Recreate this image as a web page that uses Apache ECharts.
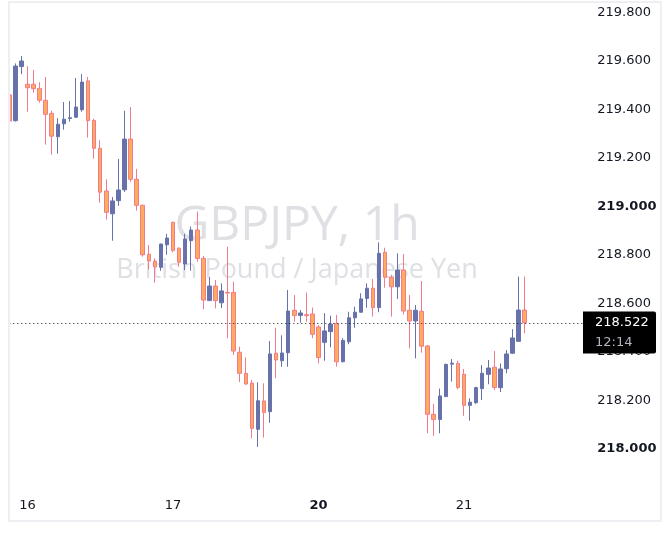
<!DOCTYPE html>
<html>
<head>
<meta charset="utf-8"/>
<title>GBPJPY, 1h</title>
<style type="text/css">
    html, body { margin: 0; padding: 0; background: #fff; }
    #main { width: 670px; height: 535px; }
</style>
<script type="text/javascript" src="https://cdn.jsdelivr.net/npm/echarts@6/dist/echarts.min.js"></script>
</head>
<body>
<div id="main"></div>
<script>
    // hourly sessions shown on the time axis: [day, first hour, number of bars]
    var sessions = [['15', 21, 3], ['16', 0, 24], ['17', 0, 24], ['20', 0, 24], ['21', 0, 21]];
    var boldDays = ['20'];

    // candles as [open, close, low, high]
    var candles = [
        [219.460, 219.353, 219.345, 219.465],
        [219.354, 219.579, 219.350, 219.590],
        [219.577, 219.600, 219.546, 219.621],
        [219.504, 219.490, 219.391, 219.579],
        [219.504, 219.486, 219.469, 219.563],
        [219.487, 219.438, 219.428, 219.512],
        [219.438, 219.380, 219.255, 219.534],
        [219.384, 219.290, 219.214, 219.395],
        [219.288, 219.339, 219.218, 219.364],
        [219.341, 219.360, 219.317, 219.431],
        [219.363, 219.366, 219.350, 219.435],
        [219.368, 219.410, 219.365, 219.530],
        [219.399, 219.513, 219.391, 219.546],
        [219.518, 219.354, 219.284, 219.534],
        [219.355, 219.240, 219.197, 219.362],
        [219.240, 219.059, 219.016, 219.273],
        [219.064, 218.976, 218.946, 219.112],
        [218.970, 219.023, 218.859, 219.039],
        [219.024, 219.068, 219.003, 219.196],
        [219.069, 219.278, 219.060, 219.395],
        [219.278, 219.112, 219.102, 219.410],
        [219.112, 219.005, 218.983, 219.155],
        [219.005, 218.801, 218.793, 219.008],
        [218.803, 218.775, 218.741, 218.841],
        [218.774, 218.751, 218.686, 218.786],
        [218.749, 218.845, 218.735, 218.847],
        [218.842, 218.870, 218.801, 218.887],
        [218.935, 218.819, 218.811, 218.937],
        [218.828, 218.770, 218.751, 218.832],
        [218.763, 218.866, 218.738, 218.887],
        [218.859, 218.903, 218.735, 218.917],
        [218.903, 218.786, 218.772, 218.979],
        [218.786, 218.614, 218.576, 218.796],
        [218.612, 218.672, 218.610, 218.709],
        [218.672, 218.612, 218.580, 218.697],
        [218.603, 218.652, 218.581, 218.683],
        [218.646, 218.643, 218.457, 218.834],
        [218.646, 218.404, 218.388, 218.690],
        [218.399, 218.312, 218.276, 218.422],
        [218.312, 218.268, 218.265, 218.378],
        [218.272, 218.085, 218.044, 218.285],
        [218.081, 218.199, 218.009, 218.275],
        [218.198, 218.151, 218.047, 218.271],
        [218.154, 218.392, 218.108, 218.445],
        [218.395, 218.367, 218.292, 218.500],
        [218.364, 218.396, 218.339, 218.469],
        [218.397, 218.569, 218.339, 218.656],
        [218.572, 218.551, 218.524, 218.635],
        [218.551, 218.561, 218.521, 218.573],
        [218.554, 218.550, 218.525, 218.645],
        [218.557, 218.473, 218.457, 218.583],
        [218.503, 218.377, 218.353, 218.511],
        [218.440, 218.487, 218.364, 218.560],
        [218.484, 218.515, 218.419, 218.550],
        [218.518, 218.360, 218.339, 218.553],
        [218.360, 218.448, 218.357, 218.457],
        [218.442, 218.541, 218.432, 218.566],
        [218.541, 218.564, 218.500, 218.587],
        [218.564, 218.619, 218.562, 218.642],
        [218.621, 218.663, 218.583, 218.683],
        [218.663, 218.583, 218.546, 218.701],
        [218.583, 218.807, 218.564, 218.852],
        [218.811, 218.708, 218.665, 218.830],
        [218.708, 218.669, 218.546, 218.718],
        [218.669, 218.738, 218.619, 218.807],
        [218.738, 218.569, 218.555, 218.804],
        [218.572, 218.528, 218.415, 218.635],
        [218.528, 218.572, 218.374, 218.594],
        [218.568, 218.424, 218.397, 218.693],
        [218.425, 218.143, 218.065, 218.429],
        [218.143, 218.122, 218.054, 218.186],
        [218.122, 218.219, 218.065, 218.249],
        [218.216, 218.349, 218.215, 218.352],
        [218.350, 218.354, 218.278, 218.371],
        [218.353, 218.254, 218.246, 218.364],
        [218.308, 218.180, 218.137, 218.330],
        [218.180, 218.193, 218.117, 218.209],
        [218.191, 218.253, 218.186, 218.257],
        [218.249, 218.312, 218.202, 218.346],
        [218.308, 218.334, 218.267, 218.367],
        [218.337, 218.254, 218.243, 218.404],
        [218.253, 218.330, 218.235, 218.353],
        [218.331, 218.392, 218.312, 218.408],
        [218.395, 218.458, 218.392, 218.494],
        [218.444, 218.573, 218.444, 218.711],
        [218.573, 218.522, 218.477, 218.711]
    ];

    var priceMin = 218.0;
    var priceMax = 219.8;
    var priceStep = 0.2;
    var lastPrice = 218.522;
    var countdown = '12:14';
    var title = 'GBPJPY, 1h';
    var subtitle = 'British Pound / Japanese Yen';

    var upColor = '#6672a9';
    var downFill = '#ffab5e';
    var downLine = '#f27b8b';
    var textColor = '#131722';
    var font = 'DejaVu Sans';

    // build hour categories
    var categories = [];
    for (var s = 0; s < sessions.length; s++) {
        for (var h = 0; h < sessions[s][2]; h++) {
            var hour = sessions[s][1] + h;
            categories.push(sessions[s][0] + ' ' + (hour < 10 ? '0' : '') + hour + ':00');
        }
    }

    var chart = echarts.init(document.getElementById('main'));

    var option = {
        animation: false,
        backgroundColor: '#ffffff',
        grid: {
            left: 9.3,
            right: 84.7,
            top: 12.5,
            bottom: 86,
            containLabel: false,
            outerBoundsMode: 'none'
        },
        xAxis: {
            type: 'category',
            data: categories,
            boundaryGap: false,
            axisLine: { show: false },
            axisTick: { show: false },
            splitLine: { show: false },
            axisLabel: {
                margin: 50,
                fontFamily: font,
                fontSize: 13,
                color: textColor,
                interval: function (index, value) {
                    return value.split(' ')[1] === '00:00';
                },
                formatter: function (value) {
                    var day = value.split(' ')[0];
                    return boldDays.indexOf(day) >= 0 ? '{b|' + day + '}' : day;
                },
                rich: {
                    b: { fontFamily: font, fontSize: 13, fontWeight: 'bold', color: textColor }
                }
            }
        },
        yAxis: {
            type: 'value',
            position: 'right',
            min: priceMin,
            max: priceMax,
            interval: priceStep,
            axisLine: { show: false },
            axisTick: { show: false },
            splitLine: { show: false },
            axisLabel: {
                margin: 12,
                fontFamily: font,
                fontSize: 13,
                color: textColor,
                formatter: function (v) {
                    var t = v.toFixed(3);
                    return Math.abs(v - Math.round(v)) < 1e-6 ? '{b|' + t + '}' : t;
                },
                rich: {
                    b: { fontFamily: font, fontSize: 13, fontWeight: 'bold', color: textColor }
                }
            }
        },
        graphic: [
            {
                // hides the part of the first bar left of the pane
                type: 'rect', id: 'mask', z: 50, silent: true,
                shape: { x: 0, y: 0, width: 9, height: 535 },
                style: { fill: '#ffffff' }
            },
            {
                type: 'rect', id: 'frame', z: 51, silent: true,
                shape: { x: 9, y: 2, width: 652, height: 519 },
                style: { fill: 'none', stroke: '#eeeff2', lineWidth: 2 }
            },
            {
                type: 'text', id: 'wm1', z: 0, silent: true,
                x: 297, y: 226,
                style: {
                    text: title, fill: '#dfe0e4',
                    font: '48px "Open Sans"', textAlign: 'center', textVerticalAlign: 'middle'
                }
            },
            {
                type: 'text', id: 'wm2', z: 0, silent: true,
                x: 297, y: 270,
                style: {
                    text: subtitle, fill: '#dfe0e4',
                    font: '27px "Open Sans"', textAlign: 'center', textVerticalAlign: 'middle'
                }
            }
        ],
        series: [
            {
                type: 'candlestick',
                data: candles,
                barWidth: 4,
                clip: true,
                itemStyle: {
                    color: upColor,
                    color0: downFill,
                    borderColor: upColor,
                    borderColor0: downLine,
                    borderWidth: 1
                },
                markLine: {
                    silent: true,
                    symbol: 'none',
                    label: { show: false },
                    lineStyle: { type: [1, 3], color: '#131722', width: 1 },
                    data: [{ yAxis: lastPrice }]
                }
            }
        ]
    };

    chart.setOption(option);

    // price label on the axis, placed where the last price falls
    var yPix = chart.convertToPixel({ yAxisIndex: 0 }, lastPrice);
    chart.setOption({
        graphic: [
            {
                type: 'rect', id: 'pbox', z: 100, silent: true,
                shape: { x: 583, y: yPix - 11, width: 73, height: 42, r: [0, 2, 2, 0] },
                style: { fill: '#000000' }
            },
            {
                type: 'text', id: 'ptext', z: 101, silent: true,
                x: 595, y: yPix,
                style: {
                    text: lastPrice.toFixed(3), fill: '#ffffff',
                    font: '13px "DejaVu Sans"', textVerticalAlign: 'middle'
                }
            },
            {
                type: 'text', id: 'ctext', z: 101, silent: true,
                x: 595, y: yPix + 20,
                style: {
                    text: countdown, fill: '#b2b5be',
                    font: '13px "DejaVu Sans"', textVerticalAlign: 'middle'
                }
            }
        ]
    });
</script>
</body>
</html>
